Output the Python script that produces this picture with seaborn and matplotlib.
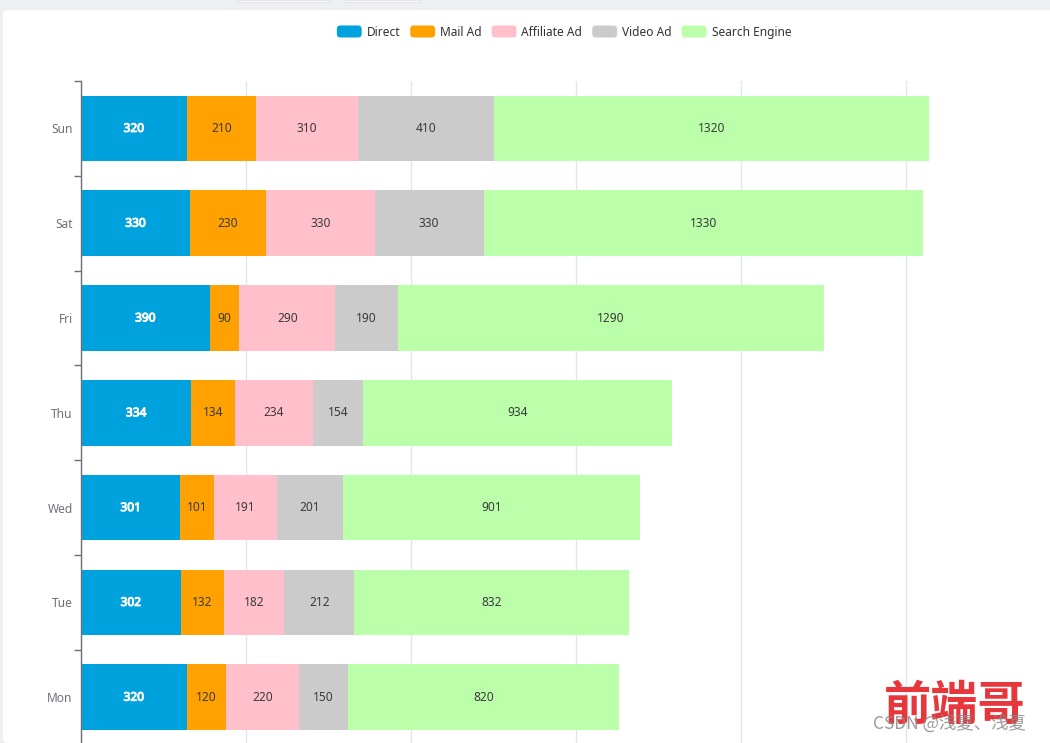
import matplotlib
matplotlib.use("Agg")
import matplotlib.pyplot as plt
import matplotlib.patheffects as pe
import seaborn as sns
import pandas as pd
from matplotlib.patches import FancyBboxPatch, Patch, Rectangle
from matplotlib.legend_handler import HandlerBase

# ---------------- data ----------------
days = ["Sun", "Sat", "Fri", "Thu", "Wed", "Tue", "Mon"]
series_names = ["Direct", "Mail Ad", "Affiliate Ad", "Video Ad", "Search Engine"]
direct = [320, 330, 390, 334, 301, 302, 320]
mail_ad = [210, 230, 90, 134, 101, 132, 120]
affiliate_ad = [310, 330, 290, 234, 191, 182, 220]
video_ad = [410, 330, 190, 154, 201, 212, 150]
search_engine = [1320, 1330, 1290, 934, 901, 832, 820]

series_values = [direct, mail_ad, affiliate_ad, video_ad, search_engine]
colors = ["#00a2de", "#ffa100", "#ffc0cb", "#cbcbcb", "#bbffab"]
label_colors = ["#ffffff", "#3a3a3a", "#3a3a3a", "#3a3a3a", "#3a3a3a"]
label_stroke = [0.7, 0, 0, 0, 0]

# ---------------- style ----------------
sns.set_theme(style="white")
plt.rcParams["font.family"] = ["Noto Sans", "Noto Sans CJK SC", "DejaVu Sans"]

W, H = 1050, 743
fig = plt.figure(figsize=(W / 100, H / 100), dpi=100)
fig.patch.set_facecolor("#eeeff3")

# white card
card = FancyBboxPatch((3 / W, 0), (W + 20) / W, (H - 10) / H,
                      boxstyle="round,pad=0,rounding_size=0.006",
                      transform=fig.transFigure, fc="white", ec="none", zorder=-10)
fig.patches.append(card)
for x0, x1 in [(236, 330), (344, 420)]:
    fig.patches.append(Rectangle((x0 / W, (H - 2) / H), (x1 - x0) / W, 2 / H,
                                 transform=fig.transFigure, fc="#f8f8fa", ec="#e2e2e6",
                                 lw=0.6, zorder=-9))

ax_left, ax_width = 81 / W, 990 / W
ax_top_px, ax_bot_px = 81.0, 744.6
ax = fig.add_axes([ax_left, (H - ax_bot_px) / H, ax_width, (ax_bot_px - ax_top_px) / H])
ax.set_facecolor("none")

left = [0] * len(days)
for name, vals, col, lcol, stw in zip(series_names, series_values, colors,
                                      label_colors, label_stroke):
    df = pd.DataFrame({"day": days, "value": vals})
    sns.barplot(data=df, x="value", y="day", order=days, orient="h", color=col,
                width=0.69, left=left, ax=ax, saturation=1, errorbar=None,
                linewidth=0, zorder=3, label=name)
    cont = ax.containers[-1]
    txts = ax.bar_label(cont, labels=[str(v) for v in vals], label_type="center",
                        color=lcol, fontsize=8.6, zorder=5)
    if stw:
        for t in txts:
            t.set_path_effects([pe.withStroke(linewidth=stw, foreground=lcol)])
    left = [l + v for l, v in zip(left, vals)]

ax.set_xlim(0, 3000)
ax.set_ylim(6.5, -0.5)
ax.set_xticks(range(0, 3001, 500))
ax.set_xticklabels([])
ax.tick_params(axis="x", length=0)
ax.xaxis.grid(True, color="#e0e6f1", linewidth=1, zorder=0)
ax.set_axisbelow(True)
ax.set_xlabel("")
ax.set_ylabel("")

ax.set_yticks(range(len(days)))
ax.set_yticklabels(days)
ax.set_yticks([i - 0.5 for i in range(len(days) + 1)], minor=True)
ax.tick_params(axis="y", which="major", length=0, pad=6, labelsize=8.6, labelcolor="#6e7079")
ax.tick_params(axis="y", which="minor", length=5, width=1, color="#6e7079", left=True)

for s in ["top", "right", "bottom"]:
    ax.spines[s].set_visible(False)
ax.spines["left"].set_color("#6e7079")
ax.spines["left"].set_linewidth(1)
ax.spines["left"].set_zorder(6)
if ax.get_legend() is not None:
    ax.get_legend().remove()


# ---------------- legend ----------------
class RoundHandler(HandlerBase):
    def create_artists(self, legend, orig_handle, xdescent, ydescent, width, height,
                       fontsize, trans):
        p = FancyBboxPatch((-xdescent, -ydescent), width, height,
                           boxstyle=f"round,pad=0,rounding_size={height * 0.3}",
                           fc=orig_handle.get_facecolor(), ec="none", transform=trans)
        return [p]


handles = [Patch(facecolor=c, label=n) for c, n in zip(colors, series_names)]
fig.legend(handles=handles, loc="center", bbox_to_anchor=(564 / W, 1 - 32 / H),
           ncol=5, frameon=False, fontsize=8.6, handlelength=2.08, handleheight=1.17,
           handletextpad=0.42, columnspacing=0.83, labelcolor="#333333",
           handler_map={Patch: RoundHandler()}, borderpad=0, borderaxespad=0)

# ---------------- watermark ----------------
fig.text(955 / W, 1 - 706 / H, "前端哥", fontsize=34, color="#e8373c",
         fontweight="bold", ha="center", va="center",
         family=["Noto Sans CJK SC", "DejaVu Sans"], zorder=10)
fig.text(949 / W, 1 - 724 / H, "CSDN @浅夏、浅夏", fontsize=12.5, color="#8a8a8a",
         alpha=0.85, ha="center", va="center",
         family=["Noto Sans CJK SC", "DejaVu Sans"], zorder=11)

fig.savefig("out.png", dpi=100, facecolor=fig.get_facecolor())
